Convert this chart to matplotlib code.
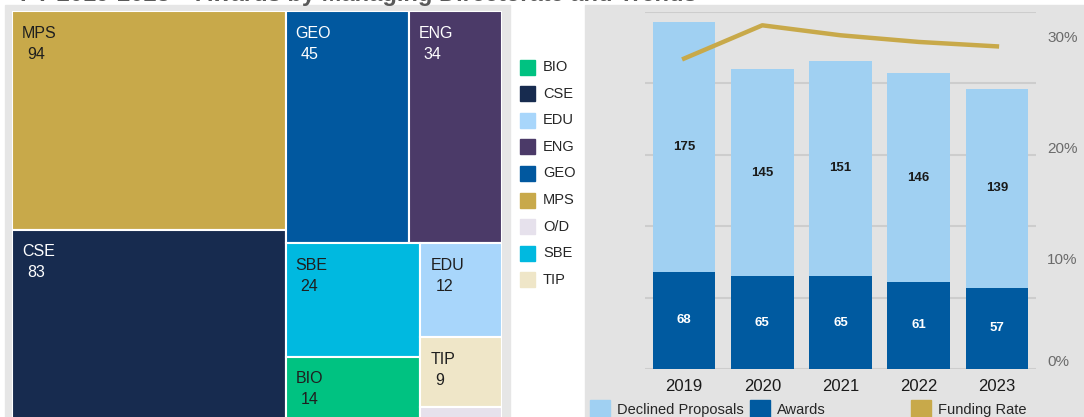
import numpy as np
import matplotlib
matplotlib.use("Agg")
import matplotlib.pyplot as plt
from matplotlib.patches import Rectangle

plt.rcParams['font.family'] = ['Liberation Sans', 'DejaVu Sans']

# treemap data (awards by managing directorate)
dirs = ['MPS', 'CSE', 'GEO', 'ENG', 'SBE', 'BIO', 'EDU', 'TIP', 'O/D']
awards_by_dir = [94, 83, 45, 34, 24, 14, 12, 9, 2]
dir_colors = {'BIO': '#00c281', 'CSE': '#172b4f', 'EDU': '#a8d6fb', 'ENG': '#4b3a68',
              'GEO': '#01589f', 'MPS': '#c8a94a', 'O/D': '#e6e1ec', 'SBE': '#00b9e0',
              'TIP': '#efe6c8'}
light_text = ['CSE', 'GEO', 'ENG']
legend_order = ['BIO', 'CSE', 'EDU', 'ENG', 'GEO', 'MPS', 'O/D', 'SBE', 'TIP']

# nesting used for the treemap layout (indices into dirs)
tree = [[0, 1], [[2, 3], [[4, 5], [6, 7, 8]]]]

# trend data
years = ['2019', '2020', '2021', '2022', '2023']
awards = [68, 65, 65, 61, 57]
declined = [175, 145, 151, 146, 139]
funding_rate = [0.280, 0.310, 0.301, 0.295, 0.291]

W, H = 1084, 417
fig = plt.figure(figsize=(W / 100, H / 100), dpi=100)

def fx(px):
    return px / W

def fy(py):
    return 1 - py / H

# background panels
fig.patches.append(Rectangle((fx(5), 0), fx(505), fy(5), transform=fig.transFigure,
                             color='#e6e6e6', zorder=-1))
fig.patches.append(Rectangle((fx(585), 0), fx(499), fy(5), transform=fig.transFigure,
                             color='#e3e3e3', zorder=-1))

# title, mostly cut off at the top
fig.text(fx(20), fy(0.8), 'FY 2019-2023 \u2013 Awards by Managing Directorate and Trends',
         fontsize=17, fontweight='bold', color='#5a5a5a', va='baseline', ha='left')

# ---- treemap ----
tw, th = 490, 412
axt = fig.add_axes([fx(12), fy(11 + th), fx(tw), th / H])
axt.set_xlim(0, tw)
axt.set_ylim(th, 0)
axt.axis('off')

def total(node):
    if isinstance(node, list):
        return sum(total(n) for n in node)
    return awards_by_dir[node]

def layout(node, x, y, w, h, horiz, out):
    if not isinstance(node, list):
        out[node] = (x, y, w, h)
        return
    s = total(node)
    pos = 0
    for child in node:
        frac = total(child) / s
        if horiz:
            layout(child, x + pos * w, y, frac * w, h, not horiz, out)
        else:
            layout(child, x, y + pos * h, w, frac * h, not horiz, out)
        pos += frac

rects = {}
layout(tree, 0, 0, tw, th, True, rects)
for i, (x, y, w, h) in rects.items():
    name = dirs[i]
    axt.add_patch(Rectangle((x, y), w, h, facecolor=dir_colors[name],
                            edgecolor='white', linewidth=1.5))
    if h > 30:
        c = 'white' if name in light_text else '#1f1f1f'
        axt.text(x + 10, y + 22, name, color=c, fontsize=11.5, va='center', ha='left')
        axt.text(x + 15, y + 43, str(awards_by_dir[i]), color=c, fontsize=11.5,
                 va='center', ha='left')

# treemap legend
for k, name in enumerate(legend_order):
    yc = 67 + k * 26.6
    fig.patches.append(Rectangle((fx(520), fy(yc + 7.5)), fx(15), 15 / H,
                                 transform=fig.transFigure, color=dir_colors[name]))
    fig.text(fx(543), fy(yc), name, fontsize=10.5, color='#262626', va='center')

# ---- bars + funding rate ----
ax = fig.add_axes([fx(645), fy(369), fx(391), (369 - 12) / H])
ax.set_facecolor('none')
x = np.arange(len(years))
b1 = ax.bar(x, awards, width=0.8, color='#005aa0', zorder=3)
b2 = ax.bar(x, declined, width=0.8, bottom=awards, color='#a0d0f2', zorder=3)
ax.bar_label(b1, label_type='center', color='white', fontsize=9.5, fontweight='bold')
ax.bar_label(b2, label_type='center', color='#1a1a1a', fontsize=9.5, fontweight='bold')
ax.set_xlim(-0.5, 4.5)
ax.set_ylim(0, 250)
ax.set_yticks(range(0, 251, 50))
ax.set_yticklabels([])
ax.grid(axis='y', color='#cdcdcd', linewidth=1.5)
ax.set_axisbelow(True)
ax.set_xticks(x)
ax.set_xticklabels(years, fontsize=12, color='#1a1a1a')
ax.tick_params(length=0, pad=7)
for s in ax.spines.values():
    s.set_visible(False)

ax2 = ax.twinx()
ax2.plot(x, funding_rate, color='#c8a94a', linewidth=3.2)
ax2.set_ylim(0, 0.322)
ax2.set_yticks([0, 0.1, 0.2, 0.3])
ax2.set_yticklabels(['0%', '10%', '20%', '30%'], fontsize=11, color='#6b6b6b')
ax2.get_yticklabels()[0].set_va('bottom')
ax2.tick_params(length=0, pad=8)
for s in ax2.spines.values():
    s.set_visible(False)

# bottom legend
leg_items = [('Declined Proposals', '#a0d0f2', 590), ('Awards', '#005aa0', 750),
             ('Funding Rate', '#c8a94a', 911)]
for label, col, lx in leg_items:
    fig.patches.append(Rectangle((fx(lx), 0), fx(20), fy(400),
                                 transform=fig.transFigure, color=col))
    fig.text(fx(lx + 27), fy(410), label, fontsize=10.5, color='#262626', va='center')

fig.savefig('out.png', dpi=100)
